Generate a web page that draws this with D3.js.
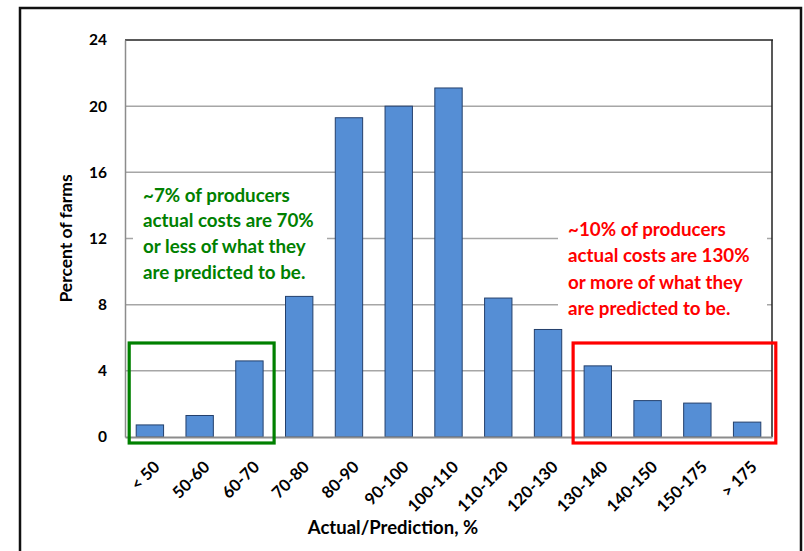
<!DOCTYPE html>
<html>
<head>
<meta charset="utf-8">
<script src="https://cdn.jsdelivr.net/npm/d3@7/dist/d3.min.js"></script>
<style>
  html, body { margin: 0; padding: 0; background: #fff; }
  svg { display: block; }
  text { font-family: Lato, "Open Sans", sans-serif; font-weight: bold; }
</style>
</head>
<body>
<svg id="chart" width="804" height="551"></svg>
<script>
// Distribution of actual / predicted cost ratio across farms
const categories = ["< 50", "50-60", "60-70", "70-80", "80-90", "90-100", "100-110",
                    "110-120", "120-130", "130-140", "140-150", "150-175", "> 175"];
const percentFarms = [0.73, 1.3, 4.6, 8.5, 19.3, 20.0, 21.1, 8.4, 6.5, 4.3, 2.2, 2.05, 0.9];
const yTicks = [0, 4, 8, 12, 16, 20, 24];
const lowNote = ["~7% of producers", "actual costs are 70%", "or less of what they", "are predicted to be."];
const highNote = ["~10% of producers", "actual costs are 130%", "or more of what they", "are predicted to be."];
const lowGroup = ["< 50", "50-60", "60-70"];
const highGroup = ["130-140", "140-150", "150-175", "> 175"];

const svg = d3.select("#chart");
const plot = { left: 125, top: 40, right: 772, bottom: 437 };

const x = d3.scaleBand().domain(categories).range([plot.left, plot.right]).paddingInner(0.45).paddingOuter(0.225);
const y = d3.scaleLinear().domain([0, 24]).range([plot.bottom, plot.top]);

// outer chart frame (open at the bottom edge of the page)
svg.append("path")
  .attr("d", `M20,560 V8 H801 V560`)
  .attr("fill", "none").attr("stroke", "#111").attr("stroke-width", 2.5);

// gridlines
svg.append("g").selectAll("line").data(yTicks.filter(d => d > 0 && d < 24)).join("line")
  .attr("x1", plot.left).attr("x2", plot.right)
  .attr("y1", d => y(d)).attr("y2", d => y(d))
  .attr("stroke", "#a6a6a6").attr("stroke-width", 1.5);

// plot area border: top and right dark, left as grey axis
svg.append("line").attr("x1", plot.left).attr("x2", plot.right + 1).attr("y1", y(24)).attr("y2", y(24))
  .attr("stroke", "#222").attr("stroke-width", 1.5);
svg.append("line").attr("x1", plot.right).attr("x2", plot.right).attr("y1", y(24)).attr("y2", plot.bottom)
  .attr("stroke", "#222").attr("stroke-width", 1.5);

// y axis
const yAxis = d3.axisLeft(y).tickValues(yTicks).tickSize(0).tickPadding(18);
const gy = svg.append("g").attr("transform", `translate(${plot.left},0)`).call(yAxis);
gy.select(".domain").attr("stroke", "#8c8c8c").attr("stroke-width", 1.5);
gy.selectAll("text").attr("font-size", 15.5).attr("fill", "#000")
  .attr("font-family", "Lato, sans-serif").attr("font-weight", "bold");

// annotation text backgrounds hide the gridlines under them
function note(lines, x0, y0, lh, color, bg) {
  svg.append("rect").attr("x", bg[0]).attr("y", bg[1]).attr("width", bg[2]).attr("height", bg[3]).attr("fill", "#fff");
  const t = svg.append("text").attr("fill", color).attr("font-size", 18.8);
  lines.forEach((s, i) => t.append("tspan").attr("x", x0).attr("y", y0 + i * lh).text(s));
}
note(lowNote, 143, 201.5, 25.8, "#008000", [133, 178, 194, 106]);
note(highNote, 568, 236, 26.3, "#ff0000", [558, 215, 209, 106]);

// bars
svg.append("g").selectAll("rect").data(percentFarms).join("rect")
  .attr("x", (d, i) => x(categories[i]))
  .attr("width", x.bandwidth())
  .attr("y", d => y(d))
  .attr("height", d => y(0) - y(d))
  .attr("fill", "#558ed5").attr("stroke", "#24406c").attr("stroke-width", 1);

// x axis
const xAxis = d3.axisBottom(x).tickSize(0).tickPadding(0);
const gx = svg.append("g").attr("transform", `translate(0,${plot.bottom})`).call(xAxis);
gx.select(".domain").attr("stroke", "#8c8c8c").attr("stroke-width", 2);
gx.selectAll("text").attr("font-size", 16.5).attr("fill", "#000")
  .attr("font-family", "Lato, sans-serif").attr("font-weight", "bold")
  .attr("text-anchor", "end").attr("dy", 0)
  .attr("transform", "translate(11,31) rotate(-45)");

// group highlight boxes
function groupBox(group, color, pad) {
  const x0 = x(group[0]) - pad[0];
  const x1 = x(group[group.length - 1]) + x.bandwidth() + pad[1];
  svg.append("rect").attr("x", x0).attr("y", 343).attr("width", x1 - x0).attr("height", 100)
    .attr("fill", "none").attr("stroke", color).attr("stroke-width", 3.2);
}
groupBox(lowGroup, "#008000", [7, 11]);
groupBox(highGroup, "#ff0000", [11, 15]);

// axis titles
svg.append("text").attr("transform", `translate(72,${(plot.top + plot.bottom) / 2}) rotate(-90)`)
  .attr("text-anchor", "middle").attr("font-size", 17.5).attr("fill", "#000").text("Percent of farms");
svg.append("text").attr("x", 393).attr("y", 534).attr("text-anchor", "middle")
  .attr("font-size", 18.5).attr("fill", "#000").text("Actual/Prediction, %");
</script>
</body>
</html>
